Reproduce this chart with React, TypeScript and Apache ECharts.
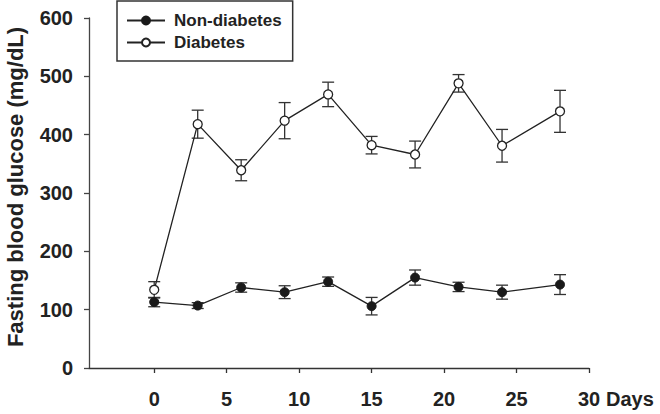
import React, { useEffect, useRef } from "react";
import * as echarts from "echarts";

const days = [0, 3, 6, 9, 12, 15, 18, 21, 24, 28];
const nonDiabetesMean = [113, 107, 138, 130, 148, 106, 155, 139, 130, 143];
const nonDiabetesErr = [8, 5, 8, 11, 8, 15, 13, 8, 12, 17];
const diabetesMean = [134, 418, 339, 424, 469, 382, 366, 488, 381, 440];
const diabetesErr = [14, 24, 18, 31, 21, 15, 23, 15, 28, 36];
const xTicks = [0, 5, 10, 15, 20, 25, 30];
const seriesNames = ["Non-diabetes", "Diabetes"];
const yTitle = "Fasting blood glucose (mg/dL)";
const xUnit = "Days";

const FONT = "'Liberation Sans', Arial, Helvetica, sans-serif";
const INK = "#222";

function errorData(mean: number[], err: number[]) {
  return days.map((d, i) => [d, mean[i] - err[i], mean[i] + err[i]]);
}

function errorSeries(name: string, data: number[][]) {
  return {
    type: "custom",
    name: name + " SEM",
    z: 1,
    silent: true,
    encode: { x: 0, y: [1, 2] },
    data,
    renderItem: (params: any, api: any) => {
      const x = api.value(0);
      const lo = api.coord([x, api.value(1)]);
      const hi = api.coord([x, api.value(2)]);
      const hw = 6;
      const style = { stroke: "#333", lineWidth: 1.3 };
      return {
        type: "group",
        children: [
          { type: "line", shape: { x1: lo[0], y1: lo[1], x2: hi[0], y2: hi[1] }, style },
          { type: "line", shape: { x1: lo[0] - hw, y1: lo[1], x2: lo[0] + hw, y2: lo[1] }, style },
          { type: "line", shape: { x1: hi[0] - hw, y1: hi[1], x2: hi[0] + hw, y2: hi[1] }, style },
        ],
      };
    },
  };
}

export default function App() {
  const ref = useRef<HTMLDivElement>(null);
  useEffect(() => {
    if (!ref.current) return;
    const chart = echarts.init(ref.current, null, { renderer: "svg" });
    const option: any = {
      animation: false,
      backgroundColor: "#fff",
      textStyle: { fontFamily: FONT },
      grid: { left: 89, right: 71, top: 18, bottom: 46 },
      legend: {
        data: seriesNames,
        orient: "vertical",
        left: 117,
        top: 1,
        borderColor: "#333",
        borderWidth: 1.5,
        padding: [11, 11, 10, 9],
        itemWidth: 38,
        itemHeight: 10,
        itemGap: 5,
        textStyle: {
          fontSize: 17,
          fontWeight: "bold",
          color: INK,
          fontFamily: FONT,
          padding: [0, 0, 0, 4],
        },
      },
      xAxis: {
        type: "value",
        position: "bottom",
        min: -4.5,
        max: 30,
        name: xUnit,
        nameLocation: "end",
        nameGap: 17,
        nameTextStyle: {
          fontSize: 20,
          fontWeight: "bold",
          color: INK,
          fontFamily: FONT,
          verticalAlign: "top",
          padding: [21, 0, 0, 0],
        },
        axisLine: { show: true, onZero: false, lineStyle: { color: "#333", width: 1.3 } },
        axisTick: { show: true, length: 5, customValues: xTicks, lineStyle: { color: "#333", width: 1.3 } },
        axisLabel: {
          customValues: xTicks,
          margin: 21,
          fontSize: 20,
          fontWeight: "bold",
          color: INK,
          fontFamily: FONT,
        },
        splitLine: { show: false },
      },
      yAxis: {
        type: "value",
        position: "left",
        min: 0,
        max: 600,
        interval: 100,
        axisLine: { show: true, onZero: false, lineStyle: { color: "#444", width: 1.3 } },
        axisTick: { show: true, inside: false, length: 5, lineStyle: { color: "#444", width: 1.3 } },
        axisLabel: {
          margin: 16,
          fontSize: 20,
          fontWeight: "bold",
          color: INK,
          fontFamily: FONT,
        },
        splitLine: { show: false },
      },
      graphic: [
        {
          type: "text",
          x: 15,
          y: 187,
          rotation: Math.PI / 2,
          style: {
            text: yTitle,
            align: "center",
            verticalAlign: "middle",
            fontSize: 22,
            fontWeight: "bold",
            fill: INK,
            fontFamily: FONT,
          },
        },
      ],
      series: [
        errorSeries(seriesNames[0], errorData(nonDiabetesMean, nonDiabetesErr)),
        errorSeries(seriesNames[1], errorData(diabetesMean, diabetesErr)),
        {
          type: "line",
          name: seriesNames[0],
          z: 3,
          data: days.map((d, i) => [d, nonDiabetesMean[i]]),
          symbol: "circle",
          symbolSize: 9,
          showAllSymbol: true,
          lineStyle: { color: "#222", width: 1.3 },
          itemStyle: { color: "#1a1a1a", borderColor: "#1a1a1a", borderWidth: 1 },
        },
        {
          type: "line",
          name: seriesNames[1],
          z: 3,
          data: days.map((d, i) => [d, diabetesMean[i]]),
          symbol: "circle",
          symbolSize: 9,
          showAllSymbol: true,
          lineStyle: { color: "#222", width: 1.3 },
          itemStyle: { color: "#fff", borderColor: "#222", borderWidth: 1.3 },
        },
      ],
    };
    chart.setOption(option);
    return () => chart.dispose();
  }, []);
  return (
    <div
      ref={ref}
      style={{ position: "fixed", left: 0, top: 0, width: 660, height: 414, background: "#fff" }}
    />
  );
}
